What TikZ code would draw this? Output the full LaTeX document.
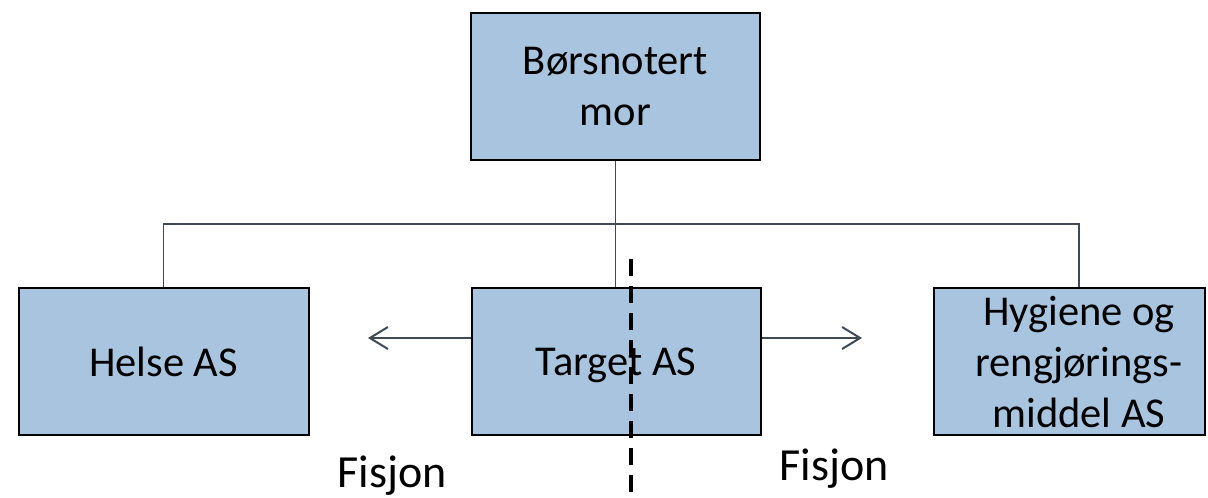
\documentclass[tikz,border=0pt]{standalone}
\usepackage{fontspec}
\setmainfont{Carlito}
\usetikzlibrary{arrows.meta}
\definecolor{boxblue}{HTML}{A9C4DE}
\definecolor{linegrey}{HTML}{3F4A57}
\tikzset{
	box/.style={draw=black, line width=2pt, fill=boxblue, inner sep=0pt, align=center, text depth=0pt,
		minimum width=289pt, minimum height=147pt, font=\fontsize{42.5}{51}\selectfont},
	link/.style={draw=linegrey, line width=1.6pt},
	move/.style={draw=linegrey, line width=2pt, -{Straight Barb[length=18pt,width=22pt]}},
	cut/.style={draw=black, line width=3.5pt, dash pattern=on 17pt off 10pt},
	fis/.style={anchor=base, inner sep=0pt, font=\fontsize{46}{54}\selectfont}
}
\begin{document}
\begin{tikzpicture}[x=1pt,y=-1pt]
			\useasboundingbox (0,0) rectangle (1208,498);
			\node[box] (mor) at (615.5,86) {Børsnotert\\mor};
			\node[box, minimum width=290pt] (helse) at (163.5,361.5) {Helse AS};
			\node[box] (target) at (616,361.5) {Target AS};
			\node[box, minimum width=271pt] (hyg) at (1069,361.5) {};
			\node[align=center, inner sep=0pt, font=\fontsize{42.5}{51}\selectfont] (hygtxt) at (1079,362) {Hygiene og\\rengjørings-\\middel AS};
			
			\coordinate (bus) at (615.5,224);
			\draw[link] (mor.south) -- (mor.south |- target.north);
			\draw[link] (helse.north) |- (bus) -| (hygtxt |- hyg.north);
			
			\coordinate (la) at (368,338);
			\coordinate (ra) at (862,338);
			\draw[move] (target.west |- la) -- (la);
			\draw[move] (target.east |- ra) -- (ra);
			
			\node[fis] (f1) at (392,487) {Fisjon};
			\node[fis] (f2) at (834,480) {Fisjon};
			
			% split line
			\coordinate (cutTop) at (631,259);
			\coordinate (cutBot) at (631,498);
			\draw[cut] (cutTop) -- (cutBot);
\end{tikzpicture}
\end{document}
